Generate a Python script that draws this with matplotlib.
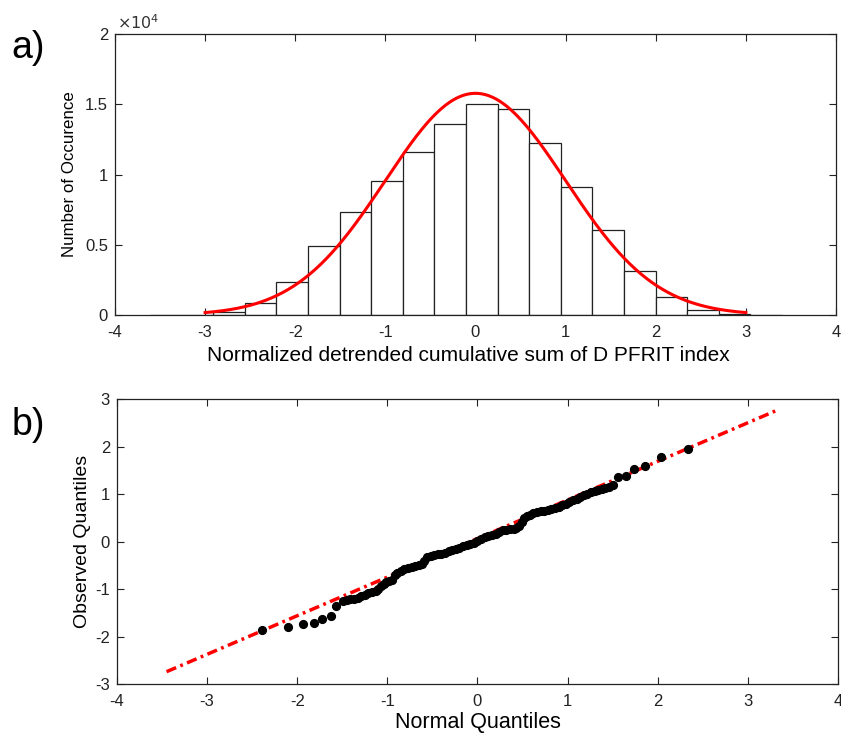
import numpy as np
import matplotlib
matplotlib.use("Agg")
from matplotlib import pyplot as plt

plt.rcParams['font.family'] = ['Liberation Sans', 'DejaVu Sans']
plt.rcParams['axes.unicode_minus'] = False

# histogram (panel a)
bin_start = -3.61
bin_width = 0.3505
counts = [10, 30, 250, 830, 2330, 4890, 7310, 9510, 11580, 13570,
          15040, 14640, 12270, 9110, 6030, 3110, 1260, 330, 70, 20]
fit_mu = 0.0
fit_sigma = 1.0
fit_peak = 15780
fit_range = [-3.0, 3.0]

# Q-Q plot (panel b)
qq_x = [-2.39, -2.10, -1.94, -1.81, -1.72, -1.63, -1.57,
        -1.49, -1.45, -1.41, -1.37, -1.33, -1.29, -1.25, -1.21, -1.17, -1.13,
        -1.10, -1.07, -1.04, -1.01, -0.98, -0.95, -0.92, -0.89, -0.85, -0.81,
        -0.77, -0.73, -0.69, -0.65, -0.62, -0.59, -0.56, -0.52, -0.48, -0.44,
        -0.40, -0.36, -0.32, -0.28, -0.24, -0.20, -0.16, -0.12, -0.08, -0.04,
        0.00, 0.04, 0.08, 0.12, 0.16, 0.20, 0.24, 0.28, 0.32, 0.36,
        0.40, 0.43, 0.46, 0.49, 0.52, 0.55, 0.58, 0.62, 0.66, 0.70,
        0.74, 0.78, 0.82, 0.86, 0.90, 0.94, 0.98, 1.02, 1.06, 1.10,
        1.14, 1.18, 1.22, 1.26, 1.30, 1.34, 1.38, 1.42, 1.46, 1.50,
        1.56, 1.65, 1.74, 1.86, 2.04, 2.34]
qq_y = [-1.86, -1.79, -1.73, -1.71, -1.62, -1.57, -1.36,
        -1.25, -1.23, -1.21, -1.20, -1.18, -1.15, -1.12, -1.09, -1.06, -1.03,
        -0.99, -0.93, -0.89, -0.86, -0.83, -0.80, -0.70, -0.66, -0.62, -0.58,
        -0.55, -0.53, -0.51, -0.49, -0.47, -0.40, -0.33, -0.31, -0.29, -0.27,
        -0.25, -0.23, -0.20, -0.18, -0.16, -0.13, -0.10, -0.07, -0.05, -0.02,
        0.02, 0.05, 0.09, 0.11, 0.14, 0.17, 0.21, 0.24, 0.25, 0.26,
        0.26, 0.28, 0.32, 0.42, 0.49, 0.53, 0.57, 0.60, 0.62, 0.64,
        0.65, 0.66, 0.68, 0.71, 0.74, 0.77, 0.80, 0.84, 0.87, 0.90,
        0.94, 0.98, 1.01, 1.05, 1.07, 1.09, 1.10, 1.12, 1.16, 1.19,
        1.36, 1.38, 1.54, 1.60, 1.79, 1.95]
line_x = [-3.45, 3.35]
line_y = [-2.74, 2.79]

fig = plt.figure(figsize=(8.41, 7.33), dpi=100)
ax1 = fig.add_axes([0.1367, 0.5702, 0.8573, 0.3834])
ax2 = fig.add_axes([0.1391, 0.0668, 0.8573, 0.3885])

# panel a
edges = bin_start + bin_width * np.arange(len(counts))
ax1.bar(edges, counts, width=bin_width, align='edge', color='white',
        edgecolor='#222222', linewidth=0.9, zorder=2)
xs = np.linspace(fit_range[0], fit_range[1], 300)
ax1.plot(xs, fit_peak * np.exp(-0.5 * ((xs - fit_mu) / fit_sigma) ** 2),
         color='red', linewidth=2.2, zorder=3)
ax1.set_xlim(-4, 4)
ax1.set_ylim(0, 20000)
ax1.set_xticks(range(-4, 5))
ax1.set_yticks([0, 5000, 10000, 15000, 20000])
ax1.set_yticklabels(['0', '0.5', '1', '1.5', '2'])
ax1.text(0.003, 1.008, r'$\times10^4$', transform=ax1.transAxes, fontsize=11.5,
         ha='left', va='bottom', color='#333333')
ax1.set_xlabel('Normalized detrended cumulative sum of D PFRIT index', fontsize=15)
ax1.xaxis.set_label_coords(0.49, -0.11)
ax1.set_ylabel('Number of Occurence', fontsize=12.2, labelpad=6)
fig.text(0.014, 0.935, 'a)', fontsize=27, ha='left', va='center')

# panel b
ax2.plot(line_x, line_y, color='red', linewidth=2.5, dashes=(3, 1.3, 0.8, 1.3), zorder=2)
ax2.plot(qq_x, qq_y, 'o', color='black', markersize=5.6, zorder=3)
ax2.set_xlim(-4, 4)
ax2.set_ylim(-3, 3)
ax2.set_xticks(range(-4, 5))
ax2.set_yticks(range(-3, 4))
ax2.set_xlabel('Normal Quantiles', fontsize=15.5, labelpad=2)
ax2.set_ylabel('Observed Quantiles', fontsize=14, labelpad=3)
fig.text(0.014, 0.42, 'b)', fontsize=27, ha='left', va='center')

for ax in (ax1, ax2):
    ax.tick_params(direction='in', top=True, right=True, labelsize=12, length=5, width=0.8, colors='#222222')
    ax.tick_params(axis='x', pad=7)
    ax.tick_params(axis='y', pad=5)
    for s in ax.spines.values():
        s.set_linewidth(0.9)
        s.set_color('#222222')

fig.savefig('out.png', dpi=100)
